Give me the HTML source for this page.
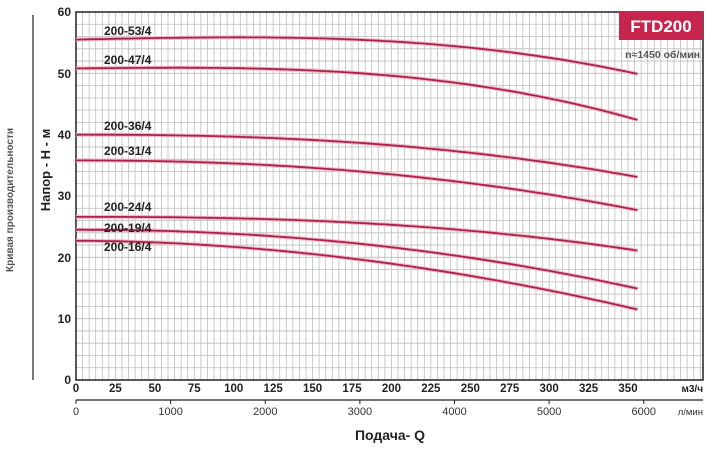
<!DOCTYPE html>
<html><head><meta charset="utf-8"><style>
html,body{margin:0;padding:0;background:#fff;}
svg{display:block;font-family:"Liberation Sans","DejaVu Sans",sans-serif;}
</style></head><body>
<svg id="s" width="713" height="449" viewBox="0 0 713 449" xmlns="http://www.w3.org/2000/svg">
<g id="grid"></g>
<rect x="76" y="12" width="627" height="368" fill="none" stroke="#222" stroke-width="1.5"/>
<g id="curves"></g>
<g font-weight="bold" font-size="12" fill="#222">
<text x="104" y="35">200-53/4</text>
<text x="104" y="64">200-47/4</text>
<text x="104" y="130">200-36/4</text>
<text x="104" y="155">200-31/4</text>
<text x="104" y="211">200-24/4</text>
<text x="104" y="232">200-19/4</text>
<text x="104" y="251">200-16/4</text>
</g>
<rect x="619" y="12" width="84" height="28" fill="#c8254e"/>
<text x="661" y="32" text-anchor="middle" fill="#fff" font-weight="bold" font-size="17">FTD200</text>
<text x="700" y="58" text-anchor="end" fill="#555" font-weight="bold" font-size="10.5">n≈1450 об/мин</text>
<g font-weight="bold" font-size="12" fill="#222" text-anchor="end">
<text x="71" y="16">60</text><text x="71" y="78">50</text><text x="71" y="139">40</text>
<text x="71" y="200">30</text><text x="71" y="262">20</text><text x="71" y="323">10</text>
<text x="71" y="384">0</text>
</g>
<line x1="33" y1="15" x2="33" y2="380" stroke="#222" stroke-width="1.2"/>
<text transform="translate(13,200) rotate(-90)" text-anchor="middle" font-size="10" font-weight="bold" fill="#555">Кривая производительности</text>
<text transform="translate(50,170) rotate(-90)" text-anchor="middle" font-size="13" font-weight="bold" fill="#222">Напор - Н - м</text>
<g id="xl" font-weight="bold" font-size="11.5" fill="#222" text-anchor="middle"></g>
<text x="703" y="392" text-anchor="end" font-weight="bold" font-size="10" fill="#222">м3/ч</text>
<line x1="76" y1="400" x2="703" y2="400" stroke="#222" stroke-width="1.3"/>
<g id="xl2" font-size="11" fill="#333" text-anchor="middle"></g>
<text x="703" y="415" text-anchor="end" font-size="9.5" fill="#333">л/мин</text>
<text x="390" y="440" text-anchor="middle" font-weight="bold" font-size="14" fill="#222">Подача- Q</text>
</svg>
<script>
var NS="http://www.w3.org/2000/svg";
function el(p,t,a){var e=document.createElementNS(NS,t);for(var k in a)e.setAttribute(k,a[k]);document.getElementById(p).appendChild(e);return e;}
var x0=76,sx=(628-76)/350,y0=380,sy=368/60;
for(var i=1;;i++){var x=x0+i*sx*25/6;if(x>702)break;el("grid","line",{x1:x,y1:12,x2:x,y2:380,stroke:"#bdbdbd","stroke-width":0.8});}
for(var v=2;v<60;v+=2){var y=y0-v*sy;el("grid","line",{x1:76,y1:y,x2:703,y2:y,stroke:"#bdbdbd","stroke-width":0.8});}
var C=[[55.5,49.9,3.2,0.6],[50.8,42.4,3.0,0.3],[40,33.1,2.4,0],[35.8,27.7,2.2,0],[26.6,21.1,2.5,0],[24.5,14.9,2.1,0],[22.7,11.5,1.9,0]];
var qe=356;
C.forEach(function(c){var d="";for(var q=0;q<=qe;q+=4){var t=q/qe;var h=c[0]+(c[1]-c[0])*Math.pow(t,c[2])+c[3]*Math.sin(Math.PI*t);d+=(q?"L":"M")+(x0+q*sx).toFixed(1)+","+(y0-h*sy).toFixed(1);}
el("curves","path",{d:d,fill:"none",stroke:"#f2b8c8","stroke-width":4});
el("curves","path",{d:d,fill:"none",stroke:"#a8234a","stroke-width":1.8});});
for(var q=0;q<=350;q+=25){var t=el("xl","text",{x:x0+q*sx,y:392});t.textContent=q;}
for(var l=0;l<=6000;l+=1000){var x=x0+l*0.06*sx;el("xl2","line",{x1:x,y1:400,x2:x,y2:404,stroke:"#222"});var t=el("xl2","text",{x:x,y:415});t.textContent=l;}
</script>
</body></html>
